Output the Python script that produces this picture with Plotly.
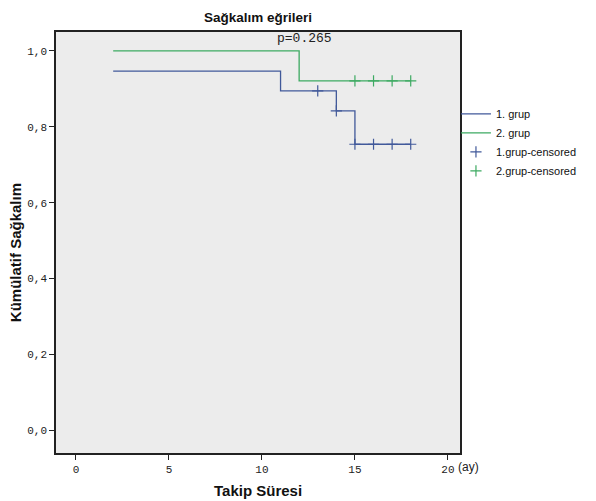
import plotly.graph_objects as go

# Data
g1_time = [2, 11, 11, 14, 14, 15, 15, 18]
g1_surv = [0.947, 0.947, 0.895, 0.895, 0.842, 0.842, 0.754, 0.754]
g2_time = [2, 12, 12, 18]
g2_surv = [1.0, 1.0, 0.921, 0.921]
g1_cens_t = [13, 14, 15, 16, 17, 18]
g1_cens_s = [0.895, 0.842, 0.754, 0.754, 0.754, 0.754]
g2_cens_t = [15, 16, 17, 18]
g2_cens_s = [0.921, 0.921, 0.921, 0.921]
x_ticks = [0, 5, 10, 15, 20]
y_ticks = [0.0, 0.2, 0.4, 0.6, 0.8, 1.0]

BLUE = "#41599a"
GREEN = "#3daa62"
SANS = "Liberation Sans, Arial"
MONO = "Liberation Mono, Courier New, monospace"

fig = go.Figure()
fig.add_trace(go.Scatter(x=g1_time, y=g1_surv, mode="lines", name="1. grup",
                         line=dict(color=BLUE, width=1.3, shape="hv")))
fig.add_trace(go.Scatter(x=g2_time, y=g2_surv, mode="lines", name="2. grup",
                         line=dict(color=GREEN, width=1.3, shape="hv")))
fig.add_trace(go.Scatter(x=g1_cens_t, y=g1_cens_s, mode="markers", name="1.grup-censored",
                         marker=dict(symbol="cross-thin", size=8, color=BLUE,
                                     line=dict(color=BLUE, width=1.2))))
fig.add_trace(go.Scatter(x=g2_cens_t, y=g2_cens_s, mode="markers", name="2.grup-censored",
                         marker=dict(symbol="cross-thin", size=8, color=GREEN,
                                     line=dict(color=GREEN, width=1.2))))

fig.add_annotation(x=12.3, y=1.033, xref="x", yref="y", text="p=0.265", showarrow=False,
                   font=dict(family=MONO, size=13, color="#222"))
fig.add_annotation(x=1.02, y=-0.033, xref="paper", yref="paper", text="(ay)", showarrow=False,
                   yanchor="middle", xanchor="center", font=dict(family=SANS, size=12, color="#222"))
fig.add_annotation(x=0.5, y=1.0546, xref="paper", yref="paper", text="<b>Sağkalım eğrileri</b>",
                   showarrow=False, yanchor="top", xanchor="center", borderpad=0,
                   font=dict(family=SANS, size=13.5, color="#111"))
fig.add_annotation(x=0.5, y=-0.088, xref="paper", yref="paper", text="<b>Takip Süresi</b>",
                   showarrow=False, yanchor="middle", xanchor="center",
                   font=dict(family=SANS, size=15, color="#111"))
fig.add_annotation(x=-0.1015, y=0.477, xref="paper", yref="paper", text="<b>Kümülatif Sağkalım</b>",
                   showarrow=False, yanchor="middle", xanchor="center", textangle=-90,
                   font=dict(family=SANS, size=15, color="#111"))

fig.update_layout(
    width=596, height=501,
    margin=dict(l=48, r=144, t=24, b=56, autoexpand=False),
    paper_bgcolor="white", plot_bgcolor="#ececec",
    showlegend=True,
    legend=dict(x=0.99, y=0.84, xanchor="left", yanchor="top", bgcolor="rgba(0,0,0,0)",
                font=dict(family=SANS, size=11, color="#111"),
                tracegroupgap=0, itemwidth=30),
    separators=",.",
)
fig.update_xaxes(range=[-1.075, 20.65], tickvals=x_ticks, ticks="outside", ticklen=5,
                 tickcolor="#222", showgrid=False, zeroline=False, automargin=False,
                 showline=True, linecolor="#222", linewidth=1.5, mirror=True,
                 tickfont=dict(family=MONO, size=11, color="#222"))
fig.update_yaxes(range=[-0.06, 1.05], tickvals=y_ticks, tickformat=".1f", ticks="outside", ticklen=5,
                 tickcolor="#222", showgrid=False, zeroline=False, automargin=False,
                 showline=True, linecolor="#222", linewidth=1.5, mirror=True,
                 tickfont=dict(family=MONO, size=11, color="#222"))

fig.write_html("out.html")
